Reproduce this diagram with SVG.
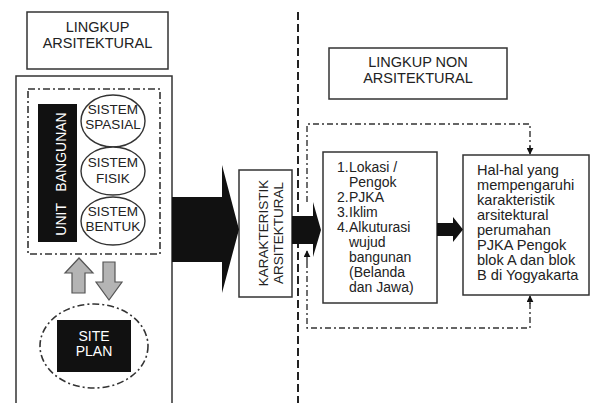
<svg xmlns="http://www.w3.org/2000/svg" width="593" height="403" viewBox="0 0 593 403">
<defs>
<marker id="ah" viewBox="0 0 10 10" refX="9" refY="5" markerWidth="7" markerHeight="7" orient="auto" markerUnits="userSpaceOnUse">
<path d="M0,0 L10,5 L0,10 Z" fill="#111"/>
</marker>
</defs>
<style>
text{font-family:"Liberation Sans",Arial,sans-serif;fill:#222;}
.box{fill:#fff;stroke:#333;stroke-width:1.5;}
.t{font-size:14.5px;text-anchor:middle;}
.s{font-size:13.5px;text-anchor:middle;}
.w{fill:#fff;}
.l{font-size:14px;}
.r{font-size:14.6px;}
.dd{fill:none;stroke:#333;stroke-width:1.6;stroke-dasharray:7 3 2 3;}
.ddr{fill:none;stroke:#333;stroke-width:1.4;stroke-dasharray:6 3 2 3;}
.blk{fill:#111;}
.gray{fill:#b4b4b4;stroke:#555;stroke-width:1.2;}
</style>
<rect width="593" height="403" fill="#fff"/>

<g id="lingkup-arsitektural">
<rect class="box" x="27" y="12" width="141" height="57"/>
<text class="t" x="97.5" y="32">LINGKUP</text>
<text class="t" x="97.5" y="48">ARSITEKTURAL</text>
</g>

<g id="outer-left">
<path d="M16,405 L16,76 L172,76 L172,405" fill="none" stroke="#333" stroke-width="1.5"/>
</g>

<g id="unit-group">
<rect class="dd" x="28" y="89" width="132" height="165"/>
</g>

<g id="unit-bangunan">
<rect class="blk" x="38" y="104" width="39" height="138"/>
<text class="w" font-size="14" text-anchor="middle" transform="translate(66,174) rotate(-90)" xml:space="preserve">UNIT   BANGUNAN</text>
</g>

<g id="sistem-spasial">
<ellipse cx="113" cy="121" rx="32" ry="26" fill="#fff" stroke="#333" stroke-width="1.4"/>
<text class="s" x="113" y="114">SISTEM</text>
<text class="s" x="113" y="129">SPASIAL</text>
</g>
<g id="sistem-fisik">
<ellipse cx="113" cy="171" rx="32" ry="24" fill="#fff" stroke="#333" stroke-width="1.4"/>
<text class="s" x="113" y="167">SISTEM</text>
<text class="s" x="113" y="183">FISIK</text>
</g>
<g id="sistem-bentuk">
<ellipse cx="113" cy="221" rx="32" ry="24" fill="#fff" stroke="#333" stroke-width="1.4"/>
<text class="s" x="113" y="216">SISTEM</text>
<text class="s" x="113" y="231">BENTUK</text>
</g>

<g id="site-plan">
<ellipse class="dd" cx="94" cy="346" rx="54" ry="42"/>
<rect class="blk" x="57" y="320" width="74" height="52"/>
<text class="w" font-size="14" text-anchor="middle" x="94" y="341">SITE</text>
<text class="w" font-size="14" text-anchor="middle" x="94" y="356">PLAN</text>
</g>

<g id="karakteristik">
<rect class="box" x="239" y="170" width="53" height="127"/>
<text font-size="13.5" text-anchor="middle" transform="translate(268,233) rotate(-90)">KARAKTERISTIK</text>
<text font-size="13.5" text-anchor="middle" transform="translate(283,233) rotate(-90)">ARSITEKTURAL</text>
</g>

<g id="lingkup-non">
<rect class="box" x="329" y="48" width="178" height="51"/>
<text class="t" x="418" y="67">LINGKUP NON</text>
<text class="t" x="418" y="83">ARSITEKTURAL</text>
</g>

<g id="faktor">
<rect class="box" x="323" y="152" width="114" height="151"/>
<text class="l" x="337" y="172">1.</text><text class="l" x="349" y="172">Lokasi /</text>
<text class="l" x="349" y="187">Pengok</text>
<text class="l" x="337" y="202">2.</text><text class="l" x="349" y="202">PJKA</text>
<text class="l" x="337" y="217">3.</text><text class="l" x="349" y="217">Iklim</text>
<text class="l" x="337" y="232">4.</text><text class="l" x="349" y="232">Alkuturasi</text>
<text class="l" x="349" y="247">wujud</text>
<text class="l" x="349" y="262">bangunan</text>
<text class="l" x="349" y="277">(Belanda</text>
<text class="l" x="349" y="292">dan Jawa)</text>
</g>

<g id="hasil">
<rect class="box" x="463" y="155" width="126" height="140"/>
<text class="r" x="477" y="175">Hal-hal yang</text>
<text class="r" x="477" y="190">mempengaruhi</text>
<text class="r" x="477" y="205">karakteristik</text>
<text class="r" x="477" y="220">arsitektural</text>
<text class="r" x="477" y="235">perumahan</text>
<text class="r" x="477" y="250">PJKA Pengok</text>
<text class="r" x="477" y="265">blok A dan blok</text>
<text class="r" x="477" y="280">B di Yogyakarta</text>
</g>

<g id="connectors">
<line x1="298" y1="12" x2="298" y2="403" stroke="#222" stroke-width="2" stroke-dasharray="8 4"/>
<polygon class="blk" points="172,197 222,197 222,165 239,229.5 222,293 222,262 172,262"/>
<polygon class="blk" points="292,216 313,216 313,202 321,230 313,257 313,244 292,244"/>
<polygon class="blk" points="437,223 453,223 453,217 463,229.5 453,242 453,236 437,236"/>
<polygon class="gray" points="72,293 72,273 65,273 79,258 93,273 85,273 85,293"/>
<polygon class="gray" points="103,262 115,262 115,282 122,282 109,300 96,282 103,282"/>
<path class="ddr" d="M307,202 L307,124 L530,124 L530,148"/>
<path d="M530,146 L530,154" stroke="#333" stroke-width="1.4" marker-end="url(#ah)"/>
<path class="ddr" d="M307,262 L307,328 L530,328 L530,302"/>
<path d="M530,304 L530,296" stroke="#333" stroke-width="1.4" marker-end="url(#ah)"/>
<path d="M307,262 L307,251" stroke="#333" stroke-width="1.4" marker-end="url(#ah)"/>
</g>
</svg>
